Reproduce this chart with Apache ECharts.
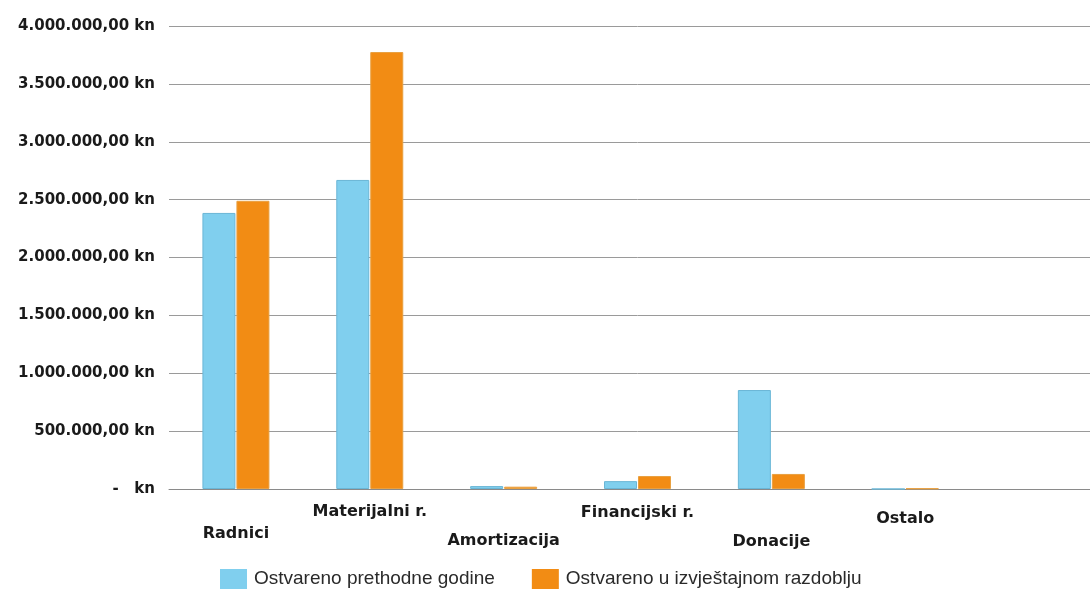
<!DOCTYPE html>
<html><head><meta charset="utf-8">
<script src="https://cdn.jsdelivr.net/npm/echarts@6/dist/echarts.min.js"></script>
<style>html,body{margin:0;padding:0;background:#fff;overflow:hidden}#c{width:1108px;height:590px}</style>
</head><body><div id="c"></div>
<script>
const categories = ['Radnici', 'Materijalni r.', 'Amortizacija', 'Financijski r.', 'Donacije', 'Ostalo', ''];
const prevYear = [2385000, 2670000, 25000, 68000, 855000, 0, null];
const currPeriod = [2490000, 3775000, 20000, 112000, 130000, 5000, null];
const seriesNames = ['Ostvareno prethodne godine', 'Ostvareno u izvještajnom razdoblju'];
const yTicks = { min: 0, max: 4000000, interval: 500000 };

const labelDrop = [28, 6, 35, 7, 36, 13, 0];

function fmt(v) {
  if (v === 0) return '-   kn';
  const s = Math.round(v).toString().replace(/\B(?=(\d{3})+(?!\d))/g, '.');
  return s + ',00 kn';
}

const chart = echarts.init(document.getElementById('c'), null, { renderer: 'canvas' });
const rich = {};
labelDrop.forEach((d, i) => {
  rich['l' + i] = { padding: [d, 0, 0, 0], fontFamily: 'DejaVu Sans', fontWeight: 'bold', fontSize: 16, color: '#1a1a1a' };
});
chart.setOption({
  animation: false,
  color: ['#80cfee', '#f28c14'],
  grid: { left: 169, right: 2, top: 26, bottom: 101, containLabel: false },
  legend: {
    top: 564, left: 215,
    itemWidth: 27, itemHeight: 20, itemGap: 37,
    icon: 'rect',
    itemStyle: { borderWidth: 0 },
    textStyle: { fontFamily: 'Liberation Sans', fontSize: 19, color: '#2a2a2a', padding: [0, 0, 0, 2] },
    data: seriesNames
  },
  xAxis: {
    type: 'category',
    data: categories,
    axisLine: { show: true, lineStyle: { color: '#8a8a8a', width: 1 } },
    axisTick: { show: false },
    axisLabel: {
      interval: 0, margin: 9,
      formatter: (v, i) => '{l' + i + '|' + v + '}',
      rich: rich
    }
  },
  yAxis: {
    type: 'value',
    min: yTicks.min, max: yTicks.max, interval: yTicks.interval,
    axisLine: { show: false },
    axisTick: { show: false },
    splitLine: { lineStyle: { color: '#9a9a9a', width: 1 } },
    axisLabel: {
      margin: 14,
      formatter: fmt,
      fontFamily: 'DejaVu Sans', fontWeight: 'bold', fontSize: 15, color: '#1a1a1a'
    }
  },
  series: [
    { name: seriesNames[0], type: 'bar', data: prevYear, barWidth: 33, barGap: '3%',
      itemStyle: { borderColor: '#6ab6d6', borderWidth: 1 } },
    { name: seriesNames[1], type: 'bar', data: currPeriod, barWidth: 33, barGap: '3%',
      itemStyle: { borderColor: '#e9a040', borderWidth: 1 } }
  ]
});
</script>
</body></html>
